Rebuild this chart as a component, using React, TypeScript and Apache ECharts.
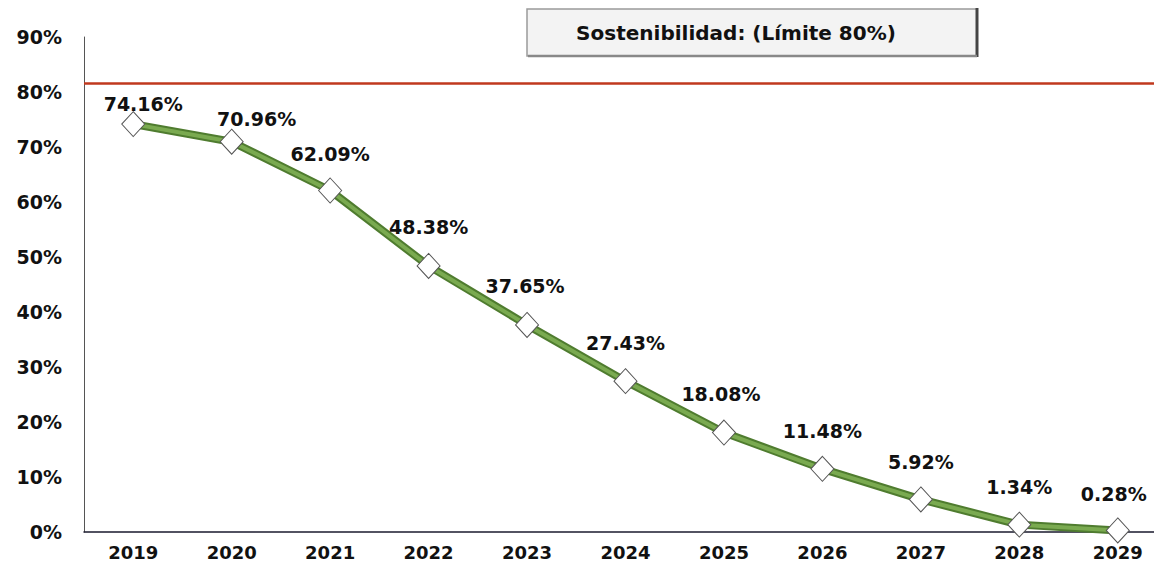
import React, { useEffect, useRef } from "react";
import * as echarts from "echarts";

const years = ["2019", "2020", "2021", "2022", "2023", "2024", "2025", "2026", "2027", "2028", "2029"];
const sustainability = [74.16, 70.96, 62.09, 48.38, 37.65, 27.43, 18.08, 11.48, 5.92, 1.34, 0.28];
const limitValue = 81.6;
const titleText = "Sostenibilidad: (Límite 80%)";
const yTicks = [0, 10, 20, 30, 40, 50, 60, 70, 80, 90];

// label offsets [dx, dy] relative to the "top" position of each point label
const labelOffsets: [number, number][] = [
  [10, 17], [25, 15], [0, 1], [0, -1], [-2, -1], [0, -1], [-3, -1], [0, 0], [0, 0], [0, 0], [-4, 1],
];

const FONT = "DejaVu Sans";

export default function App() {
  const ref = useRef<HTMLDivElement>(null);
  useEffect(() => {
    if (!ref.current) return;
    const chart = echarts.init(ref.current, null, { renderer: "svg" });
    chart.setOption({
      animation: false,
      backgroundColor: "#ffffff",
      grid: { left: 84, top: 37, width: 1083, height: 495, containLabel: false },
      xAxis: {
        type: "category",
        data: years,
        boundaryGap: true,
        axisLine: { show: true, lineStyle: { color: "#1a1a2e", width: 1.5 } },
        axisTick: { show: false },
        axisLabel: {
          color: "#111",
          fontFamily: FONT,
          fontWeight: "bold",
          fontSize: 18,
          margin: 11,
        },
        splitLine: { show: false },
      },
      yAxis: {
        type: "value",
        min: yTicks[0],
        max: yTicks[yTicks.length - 1],
        interval: 10,
        axisLine: { show: true, lineStyle: { color: "#555", width: 1 } },
        axisTick: { show: false },
        splitLine: { show: false },
        axisLabel: {
          color: "#111",
          fontFamily: FONT,
          fontWeight: "bold",
          fontSize: 19,
          margin: 22,
          formatter: (v: number) => `${v}%`,
        },
      },
      graphic: [
        {
          type: "rect",
          shape: { x: 527, y: 9, width: 450, height: 47 },
          style: { fill: "#f3f3f3", stroke: "#9a9a9a", lineWidth: 1.5 },
        },
        {
          type: "line",
          shape: { x1: 977, y1: 8, x2: 977, y2: 57 },
          style: { stroke: "#444", lineWidth: 3 },
        },
        {
          type: "line",
          shape: { x1: 528, y1: 56, x2: 977, y2: 56 },
          style: { stroke: "#888", lineWidth: 2.5 },
        },
        {
          type: "text",
          x: 736,
          y: 33,
          style: {
            text: titleText,
            fill: "#111",
            font: `bold 20px '${FONT}'`,
            textAlign: "center",
            textVerticalAlign: "middle",
          },
        },
      ],
      series: [
        {
          type: "line",
          data: sustainability,
          symbol: "none",
          silent: true,
          lineStyle: { color: "#4f7c2f", width: 8 },
          z: 2,
          markLine: {
            silent: true,
            symbol: "none",
            label: { show: false },
            lineStyle: { color: "#c0381e", width: 2.5, type: "solid" },
            data: [{ yAxis: limitValue }],
          },
        },
        {
          type: "line",
          data: sustainability.map((v, i) => ({
            value: v,
            label: { offset: labelOffsets[i] },
          })),
          symbol: "diamond",
          symbolSize: [23, 25],
          showAllSymbol: true,
          lineStyle: { color: "#7aaa50", width: 4 },
          itemStyle: { color: "#ffffff", borderColor: "#555", borderWidth: 1 },
          label: {
            show: true,
            position: "top",
            distance: 15,
            color: "#111",
            fontFamily: FONT,
            fontWeight: "bold",
            fontSize: 19,
            formatter: (p: any) => `${p.value.toFixed(2)}%`,
          },
          z: 3,
        },
      ],
    });
    return () => chart.dispose();
  }, []);
  return (
    <div
      ref={ref}
      style={{ position: "fixed", left: 0, top: 0, width: 1180, height: 568, background: "#fff" }}
    />
  );
}
